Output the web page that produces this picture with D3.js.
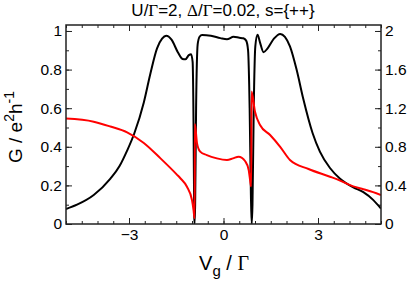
<!DOCTYPE html>
<html>
<head>
<meta charset="utf-8">
<script src="https://cdn.jsdelivr.net/npm/d3@7"></script>
<style>
  body { margin: 0; background: #fff; }
  text { font-family: "Liberation Sans", Arial, sans-serif; }
</style>
</head>
<body>
<svg id="chart" width="411" height="284"></svg>
<script>
// black curve (left axis, G in e^2/h)
const vgBlack = [-5.0, -4.65, -4.12, -3.59, -3.3, -3.06, -2.83, -2.53, -2.32, -2.11, -1.95, -1.82, -1.65, -1.45, -1.3, -1.21, -1.1, -1.03,
  -0.98, -0.95, -0.93, -0.92, -0.9, -0.87, -0.82, -0.76, -0.68, -0.4, -0.1, 0.11, 0.32, 0.5, 0.63, 0.72, 0.78, 0.83, 0.87, 0.895,
  0.92, 0.96, 1.01, 1.08, 1.16, 1.27, 1.4, 1.6, 1.8, 1.95, 2.11, 2.32, 2.53, 2.83, 3.06, 3.38, 3.7, 4.12, 4.44, 4.75, 5.0];
const gBlack = [0.078, 0.1, 0.15, 0.235, 0.3, 0.38, 0.47, 0.63, 0.78, 0.91, 0.96, 0.975, 0.955, 0.89, 0.855, 0.853, 0.875, 0.88,
  0.84, 0.5, 0.05, 0.0, 0.1, 0.6, 0.93, 0.97, 0.979, 0.975, 0.963, 0.957, 0.97, 0.965, 0.962, 0.95, 0.9, 0.6, 0.15, 0.0,
  0.1, 0.6, 0.92, 0.98, 0.94, 0.89, 0.91, 0.96, 0.985, 0.97, 0.92, 0.8, 0.65, 0.47, 0.375, 0.29, 0.235, 0.19, 0.165, 0.125, 0.08];

// red curve
const vgRed = [-5.0, -4.12, -3.59, -3.06, -2.53, -2.0, -1.48, -1.37, -1.16, -1.0, -0.95, -0.92, -0.915, -0.91, -0.84, -0.74, -0.53,
  -0.21, 0.11, 0.3, 0.48, 0.69, 0.8, 0.87, 0.88, 0.89, 1.0, 1.16, 1.48, 1.8, 2.11, 2.7, 3.38, 3.7, 4.12, 4.44, 4.75, 5.0];
const gRed = [0.546, 0.53, 0.505, 0.475, 0.42, 0.34, 0.256, 0.237, 0.193, 0.124, 0.07, 0.03, 0.03, 0.518, 0.418, 0.375, 0.357,
  0.34, 0.332, 0.34, 0.349, 0.325, 0.28, 0.2, 0.195, 0.686, 0.582, 0.513, 0.461, 0.4, 0.332, 0.285, 0.245, 0.225, 0.195, 0.18, 0.165, 0.15];

const xTicks = [-3, 0, 3];
const yLeftTicks = [0, 0.2, 0.4, 0.6, 0.8, 1];
const yRightTicks = [0, 0.4, 0.8, 1.2, 1.6, 2];

const pLeft = 66, pRight = 381, pTop = 25, pBottom = 224;
const svg = d3.select("#chart");

const x = d3.scaleLinear().domain([-5, 5]).range([pLeft, pRight]);
const y = d3.scaleLinear().domain([0, 1.031]).range([pBottom, pTop]);
const y2 = d3.scaleLinear().domain([0, 2.062]).range([pBottom, pTop]);

// minor ticks
const xMinor = d3.range(-5, 5.01, 0.5);
const yMinor = d3.range(0, 1.01, 0.1);

function styleAxis(g) {
  g.select(".domain").remove();
  g.selectAll(".tick line").attr("stroke", "#222").attr("stroke-width", 1);
  g.selectAll(".tick text").attr("fill", "#000").attr("font-size", 15.5).attr("font-family", "Liberation Sans, Arial, sans-serif");
}

// bottom
svg.append("g").attr("transform", `translate(0,${pBottom})`)
  .call(d3.axisBottom(x).tickValues(xMinor).tickSize(-3).tickFormat("")).call(styleAxis);
svg.append("g").attr("transform", `translate(0,${pBottom})`)
  .call(d3.axisBottom(x).tickValues(xTicks).tickSize(-6).tickPadding(5).tickFormat(d3.format("d"))).call(styleAxis);
// top
svg.append("g").attr("transform", `translate(0,${pTop})`)
  .call(d3.axisTop(x).tickValues(xMinor).tickSize(-3).tickFormat("")).call(styleAxis);
svg.append("g").attr("transform", `translate(0,${pTop})`)
  .call(d3.axisTop(x).tickValues(xTicks).tickSize(-6).tickFormat("")).call(styleAxis);
// left
svg.append("g").attr("transform", `translate(${pLeft},0)`)
  .call(d3.axisLeft(y).tickValues(yMinor).tickSize(-3).tickFormat("")).call(styleAxis);
svg.append("g").attr("transform", `translate(${pLeft},0)`)
  .call(d3.axisLeft(y).tickValues(yLeftTicks).tickSize(-6).tickPadding(4).tickFormat(d => d3.format("~g")(d))).call(styleAxis);
// right
svg.append("g").attr("transform", `translate(${pRight},0)`)
  .call(d3.axisRight(y).tickValues(yMinor).tickSize(-3).tickFormat("")).call(styleAxis);
svg.append("g").attr("transform", `translate(${pRight},0)`)
  .call(d3.axisRight(y2).tickValues(yRightTicks).tickSize(-6).tickPadding(4).tickFormat(d => d3.format("~g")(d))).call(styleAxis);

// curves
svg.append("clipPath").attr("id", "clip").append("rect")
  .attr("x", pLeft).attr("y", pTop).attr("width", pRight - pLeft).attr("height", pBottom - pTop);

const line = d3.line().x(d => x(d[0])).y(d => y(d[1])).curve(d3.curveMonotoneX);

svg.append("path")
  .datum(d3.zip(vgBlack, gBlack))
  .attr("clip-path", "url(#clip)")
  .attr("fill", "none").attr("stroke", "#000").attr("stroke-width", 2)
  .attr("d", line);

svg.append("path")
  .datum(d3.zip(vgRed, gRed))
  .attr("clip-path", "url(#clip)")
  .attr("fill", "none").attr("stroke", "#f00").attr("stroke-width", 2)
  .attr("d", line);

// frame
svg.append("rect")
  .attr("x", pLeft).attr("y", pTop).attr("width", pRight - pLeft).attr("height", pBottom - pTop)
  .attr("fill", "none").attr("stroke", "#222").attr("stroke-width", 1.5);

// title
const title = svg.append("text").attr("x", 223).attr("y", 16).attr("text-anchor", "middle").attr("font-size", 17);
title.append("tspan").text("U/");
title.append("tspan").attr("font-family", "Liberation Serif, serif").text("Γ");
title.append("tspan").text("=2, ");
title.append("tspan").attr("font-family", "Liberation Serif, serif").text("Δ");
title.append("tspan").text("/");
title.append("tspan").attr("font-family", "Liberation Serif, serif").text("Γ");
title.append("tspan").text("=0.02, s={++}");

// x label
const xl = svg.append("text").attr("x", 224).attr("y", 270).attr("text-anchor", "middle").attr("font-size", 20);
xl.append("tspan").text("V");
xl.append("tspan").attr("font-size", 15).attr("dy", 6).text("g");
xl.append("tspan").attr("dy", -6).text(" / ");
xl.append("tspan").attr("font-family", "Liberation Serif, serif").text("Γ");

// y label
const yl = svg.append("text").attr("transform", "translate(22,127) rotate(-90)")
  .attr("text-anchor", "middle").attr("font-size", 19);
yl.append("tspan").text("G / e");
yl.append("tspan").attr("font-size", 14).attr("dy", -8).text("2");
yl.append("tspan").attr("dy", 8).text("h");
yl.append("tspan").attr("font-size", 14).attr("dy", -8).text("-1");
</script>
</body>
</html>
